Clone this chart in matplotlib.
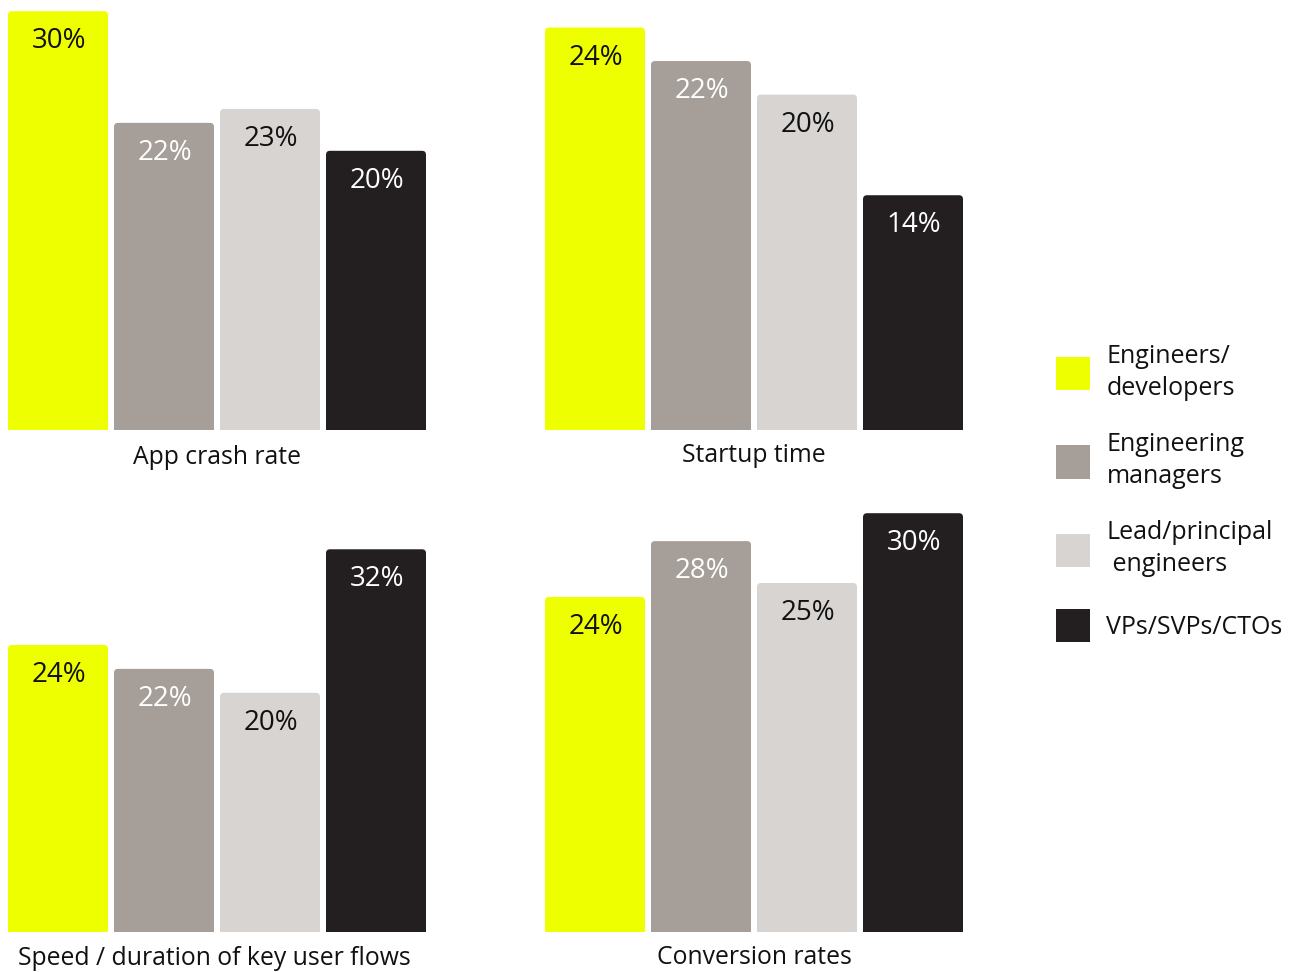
import matplotlib
matplotlib.use("Agg")
import matplotlib.pyplot as plt
from matplotlib.patches import FancyBboxPatch, Patch

plt.rcParams['font.family'] = ['Open Sans', 'DejaVu Sans']

groups = ["Engineers/\ndevelopers", "Engineering\nmanagers", "Lead/principal\n engineers", "VPs/SVPs/CTOs"]
COLORS = ["#EEFF00", "#A69E98", "#D8D4D2", "#231F20"]
TEXT_COLORS = ["#111111", "white", "#111111", "white"]

metrics = ["App crash rate", "Startup time", "Speed / duration of key user flows", "Conversion rates"]
crash_rate = [30, 22, 23, 20]
startup_time = [24, 22, 20, 14]
user_flows = [24, 22, 20, 32]
conversion = [24, 28, 25, 30]
values = [crash_rate, startup_time, user_flows, conversion]

W, H = 1300, 972
fig = plt.figure(figsize=(W / 100, H / 100), dpi=100)

# panel boxes in pixels: left, baseline, top, px per percent
panels = [(8, 430, 0, 13.96), (545, 430, 0, 16.77), (8, 932, 500, 11.96), (545, 932, 500, 13.96)]
label_pos = [(217, 457), (754, 455), (214, 958), (754, 957)]

PITCH = 106
BAR_W = 100 / PITCH
RADIUS = 4

for vals, name, (left, base, top, scale), (lx, ly) in zip(values, metrics, panels, label_pos):
    ax = fig.add_axes([left / W, (H - base) / H, 418 / W, (base - top) / H])
    ax.set_xlim(-BAR_W / 2, 3 + BAR_W / 2)
    ax.set_ylim(0, (base - top) / scale)
    ax.axis("off")
    for i, v in enumerate(vals):
        bar = FancyBboxPatch((i - BAR_W / 2, -2), BAR_W, v + 2,
                             boxstyle="round,pad=0,rounding_size=%f" % (RADIUS / PITCH),
                             mutation_aspect=PITCH / scale,
                             facecolor=COLORS[i], edgecolor="none")
        ax.add_patch(bar)
        ax.annotate("%d%%" % v, (i, v), xytext=(1, -30), textcoords="offset pixels",
                    ha="center", va="center", fontsize=20, color=TEXT_COLORS[i])
    fig.text(lx / W, 1 - ly / H, name, ha="center", va="center", fontsize=17.8, color="#111111")

handles = [Patch(facecolor=c, edgecolor="none") for c in COLORS]
leg = fig.legend(handles, groups, loc="center left", bbox_to_anchor=(1033 / W, 1 - 493 / H),
                 frameon=False, fontsize=18, handlelength=1.36, handleheight=1.68,
                 handletextpad=0.68, labelspacing=1.25)
for t in leg.get_texts():
    t.set_linespacing(1.37)
    t.set_color("#111111")

fig.savefig("out.png", dpi=100)
